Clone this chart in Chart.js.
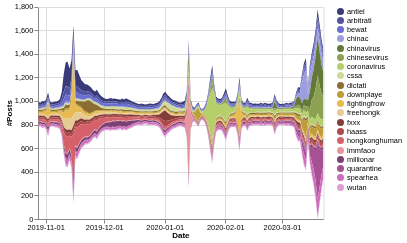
<!DOCTYPE html>
<html><head><meta charset="utf-8">
<script src="https://cdn.jsdelivr.net/npm/chart.js@4.4.1/dist/chart.umd.min.js"></script>
<style>
html,body{margin:0;padding:0;background:#fff;}
#wrap{position:relative;width:407px;height:243px;overflow:hidden;}
#c{position:absolute;left:0;top:0;}
#legend{position:absolute;left:337px;top:6.4px;font-family:"Liberation Sans",Arial,sans-serif;font-size:7.4px;color:#000;}
.item{height:9.28px;display:flex;align-items:center;white-space:nowrap;}
.dot{width:7px;height:7px;border-radius:50%;margin-right:3px;flex:none;}
</style></head>
<body><div id="wrap"><canvas id="c" width="407" height="243"></canvas><div id="legend"></div></div>
<script>
// day index 0 = 2019-10-28 ... 146 = 2020-03-22
const startDate = '2019-10-28';
const tickDays = [4, 34, 65, 96, 125];
const tickLabels = ['2019-11-01', '2019-12-01', '2020-01-01', '2020-02-01', '2020-03-01'];
const seriesNames = ['antiel','arbitrati','bewat','chinac','chinavirus','chinesevirus','coronavirus','cssa','dictati','downplaye','fightingfrow','freehongk','fxxx','haass','hongkonghuman','lmmfaoo','millionar','quarantine','spearhea','wutan'];
const seriesColors = ['#393b79','#5254a3','#6b6ecf','#9c9ede','#637939','#8ca252','#b5cf6b','#cedb9c','#8c6d31','#bd9e39','#e7ba52','#e7cb94','#843c39','#ad494a','#d6616b','#e7969c','#7b4173','#a55194','#ce6dbd','#de9ed6'];

const antiel = [22,20,24,21,26,35,22,20,23,21, 24,28,60,150,200,210,170,150,70,130, 140,110,85,75,65,58,52,48,44,40, 50,40,34,30,26,24,24,26,22,24, 22,24,22,26,24,28,24,22,20,18, 17,16,16,18,16,15,16,18,17,16, 17,18,20,22,26,28,24,22,20,19, 20,19,17,18,20,22,26,40,15,12, 10,8,12,8,6,10,14,16,30,40, 20,16,14,15,14,20,30,22,16,14, 14,13,16,30,14,12,13,20,14,12, 13,12,11,12,14,12,13,12,11,12, 13,20,16,12,11,10,10,11,10,11, 10,12,14,18,16,24,30,30,20,26, 32,38,45,60,50,40,35];
const arbitrati = [14,13,15,14,15,18,14,13,14,15, 15,16,30,60,70,72,62,60,40,55, 55,48,40,36,32,28,26,24,22,21, 26,22,20,18,17,16,16,17,16,16, 17,16,15,17,16,18,16,15,14,13, 13,12,12,13,12,11,12,13,12,12, 12,13,14,16,18,20,17,15,14,13, 14,13,12,13,14,15,18,30,12,10, 8,6,8,6,5,8,12,12,20,25, 14,12,11,12,11,14,20,15,12,11, 11,10,12,20,11,10,10,16,11,10, 10,10,9,10,11,10,11,10,9,10, 11,16,13,10,9,9,9,10,9,10, 9,10,11,14,13,18,25,30,18,22, 28,32,38,45,40,35,30];
const bewat = [15,14,16,15,16,20,15,14,16,15, 16,18,30,50,58,58,52,55,30,45, 45,40,35,32,30,28,26,26,24,23, 30,26,24,22,22,22,23,24,22,24, 22,22,20,23,22,25,22,20,19,17, 16,15,15,16,14,13,15,16,15,14, 15,16,18,20,22,24,20,18,17,15, 17,15,14,15,17,19,22,30,12,10, 8,6,8,6,5,8,12,14,25,30, 16,14,13,14,13,16,24,18,14,13, 13,12,14,24,13,12,12,18,13,12, 12,12,11,12,13,12,13,12,11,12, 13,18,15,12,11,12,12,13,12,13, 12,14,16,20,18,30,40,40,25,32, 38,42,48,55,50,45,40];
const chinac = [5,4,6,5,5,6,5,4,5,5, 5,6,6,8,10,10,8,10,8,8, 8,7,6,6,5,5,5,6,5,5, 6,5,5,5,4,4,5,5,4,5, 5,5,4,5,5,6,5,5,4,4, 4,3,4,4,3,3,4,4,4,3, 4,4,5,5,6,6,5,5,4,4, 5,4,4,4,5,5,6,8,3,2, 2,2,2,2,1,2,3,4,8,10, 5,4,4,4,4,5,8,5,4,4, 4,4,5,8,4,4,4,6,4,4, 4,4,4,4,5,4,5,4,4,4, 5,8,6,5,5,5,5,6,5,6, 6,8,15,25,40,180,200,250,50,150, 110,110,90,80,90,100,80];
const chinavirus = [1,1,1,1,1,1,1,1,1,1, 1,1,1,2,2,2,2,2,3,2, 1,1,1,1,1,1,1,1,1,1, 1,1,1,1,1,1,1,1,1,1, 1,1,1,1,1,1,1,1,1,1, 1,1,1,1,1,1,1,1,1,1, 1,1,1,1,2,2,1,1,1,1, 1,1,1,1,1,1,5,80,2,1, 1,1,1,1,1,1,2,5,15,30, 6,4,4,4,4,8,15,6,4,4, 4,4,6,8,4,4,5,10,5,4, 4,5,4,5,6,5,6,6,5,6, 10,60,15,8,6,6,7,8,7,8, 10,15,60,70,70,60,60,60,50,150, 190,230,280,320,290,240,210];
const chinesevirus = [1,1,1,1,1,1,1,1,1,1, 1,1,1,1,1,1,1,1,2,1, 1,1,1,1,1,1,1,1,1,1, 1,1,1,1,1,1,1,1,1,1, 1,1,1,1,1,1,1,1,1,1, 1,1,1,1,1,1,1,1,1,1, 1,1,1,1,2,2,2,1,1,1, 1,1,1,1,2,2,5,60,3,2, 2,2,2,2,2,3,5,15,40,60, 20,10,8,8,10,20,30,15,8,6, 6,5,8,15,6,5,6,10,6,5, 5,5,5,5,6,5,6,6,5,6, 8,20,10,6,5,6,6,7,6,7, 8,10,20,30,25,30,45,50,40,90, 140,190,260,320,270,220,180];
const coronavirus = [2,2,2,2,2,2,2,2,2,2, 2,2,2,2,3,3,2,3,4,3, 2,2,2,2,2,2,2,2,2,2, 2,2,2,2,2,2,2,2,2,2, 2,2,2,2,2,2,2,2,2,2, 2,2,2,2,2,2,2,2,2,2, 2,2,2,3,4,4,3,3,3,3, 3,3,3,4,5,6,8,15,6,6, 6,8,10,12,15,30,80,200,320,440, 300,120,90,80,100,130,150,100,50,40, 35,30,40,60,35,28,30,60,32,28, 22,24,22,20,22,20,22,20,19,20, 22,35,25,20,19,20,19,21,20,22, 22,24,30,40,35,40,45,40,40,50, 60,55,55,50,55,55,50];
const cssa = [8,7,8,8,9,10,8,7,8,8, 8,9,10,12,12,12,10,12,15,12, 10,10,9,9,9,10,10,12,12,14, 15,13,13,14,14,15,16,18,17,18, 18,18,17,18,18,18,17,16,15,14, 13,12,12,12,11,11,12,12,12,12, 12,13,15,20,26,30,40,45,45,40, 35,30,25,20,18,16,16,20,8,6, 5,5,5,4,4,5,6,8,10,12, 10,9,9,9,8,9,10,9,8,8, 8,8,8,10,8,8,8,9,8,8, 8,8,8,8,8,8,8,8,8,8, 8,9,8,8,7,8,7,8,7,8, 8,8,9,10,10,10,12,12,10,10, 10,10,10,10,10,10,10];
const dictati = [10,9,11,10,10,12,10,9,10,11, 10,12,15,25,30,30,25,30,20,25, 30,40,50,70,85,100,110,95,75,55, 45,32,22,18,14,12,11,11,10,11, 10,10,10,11,10,11,10,10,9,9, 9,8,8,9,8,8,8,9,8,8, 9,9,10,11,13,13,11,11,10,10, 10,10,9,9,10,11,14,20,6,5, 4,4,4,3,3,4,6,8,12,14, 10,9,9,9,9,10,12,10,9,9, 9,9,10,14,9,9,9,12,9,9, 9,9,9,9,10,9,10,9,9,9, 10,20,12,9,8,8,8,9,8,9, 9,10,15,20,15,15,18,20,15,15, 15,15,15,15,15,15,15];
const downplaye = [10,9,10,10,10,12,10,9,10,10, 10,11,12,15,18,18,15,18,20,15, 14,13,12,12,11,11,10,10,10,10, 10,9,9,8,8,8,8,8,8,8, 8,8,8,8,8,8,8,8,8,8, 8,7,7,8,7,7,7,8,7,7, 8,8,8,9,10,10,9,9,9,9, 9,9,9,9,10,10,12,20,10,10, 20,80,110,30,10,12,14,16,20,25, 16,14,14,14,14,16,20,16,14,13, 13,12,16,20,14,12,12,15,12,12, 12,12,12,12,13,12,13,12,12,12, 13,20,15,12,12,12,12,13,12,13, 13,15,30,25,35,50,110,150,30,50, 60,70,70,60,70,70,60];
const fightingfrow = [15,14,16,18,40,90,20,15,14,15, 16,20,40,60,70,60,80,150,550,60, 50,40,32,26,22,20,18,16,15,14, 15,14,13,12,12,11,11,12,11,11, 10,10,10,10,10,10,10,10,9,9, 8,8,8,8,8,7,8,8,8,8, 8,8,8,8,9,9,8,8,8,8, 8,8,8,8,8,8,9,15,6,5, 4,4,4,3,3,4,5,6,8,10, 8,7,7,8,8,10,12,8,8,10, 15,30,120,300,50,15,10,12,9,8, 8,8,8,8,8,8,8,8,8,8, 8,12,9,8,7,7,7,8,7,8, 8,9,12,15,14,18,25,20,20,20, 20,20,20,20,20,20,20];
const freehongk = [15,14,16,15,16,20,15,14,15,15, 16,18,30,60,90,100,90,100,90,70, 70,60,50,44,38,32,28,25,22,20, 22,19,17,15,14,13,13,14,13,13, 12,12,11,12,11,12,11,11,10,10, 9,9,9,9,9,8,9,9,9,8, 9,9,10,10,11,11,10,10,9,9, 9,9,9,9,9,10,10,15,6,5, 4,4,4,3,3,4,5,6,8,10, 8,7,7,7,7,8,10,8,7,7, 7,7,8,10,7,7,7,8,7,7, 7,7,7,7,7,7,7,7,7,7, 7,9,8,7,7,7,7,7,7,7, 7,8,8,9,9,10,10,12,10,10, 10,10,10,10,10,10,10];
const fxxx = [15,14,16,15,16,18,15,14,15,16, 16,18,20,25,28,28,24,28,35,28, 28,26,24,22,20,18,18,18,17,17, 18,16,15,14,14,13,14,14,13,14, 14,13,13,14,13,14,13,13,12,12, 11,11,11,12,11,11,12,12,12,14, 16,20,28,50,80,90,70,55,38,28, 22,18,16,15,15,15,18,25,10,8, 6,6,6,5,5,6,8,10,15,18, 13,12,12,12,12,13,15,13,12,11, 11,11,13,16,11,11,11,13,11,11, 10,10,10,10,11,10,11,10,10,10, 11,16,12,10,10,10,10,11,10,11, 12,13,18,25,22,22,22,22,18,18, 18,18,20,20,20,20,20];
const haass = [14,15,15,16,15,17,16,15,14,15, 15,17,21,24,29,31,26,29,38,31, 29,27,25,23,21,19,19,19,18,17, 19,17,16,15,15,14,15,15,14,15, 15,14,14,15,14,15,14,14,13,12, 12,11,12,12,11,12,12,13,13,14, 15,17,20,28,42,48,38,32,26,21, 19,17,16,15,15,15,17,25,10,8, 6,6,6,5,5,6,8,10,15,18, 13,12,12,12,12,13,15,13,12,11, 11,11,13,16,11,11,11,13,11,11, 10,10,10,10,11,10,11,10,10,10, 11,16,12,10,10,10,10,11,10,11, 12,13,18,24,20,22,22,24,18,22, 24,24,25,25,25,25,25];
const hongkonghuman = [20,18,22,20,22,26,20,19,20,21, 22,25,40,100,140,140,110,150,450,150, 170,150,130,110,100,110,100,90,80,80, 90,75,60,50,42,38,34,32,30,28, 26,25,24,25,24,25,23,22,20,18, 16,15,15,15,14,14,14,15,14,14, 14,15,17,20,22,24,20,18,16,16, 16,14,14,14,14,14,16,25,8,6, 5,5,5,4,4,5,6,8,12,14, 12,11,11,11,11,12,13,12,11,11, 11,11,12,14,11,11,11,12,11,11, 11,11,11,11,11,11,11,11,11,11, 11,14,12,11,10,10,10,10,10,10, 10,11,12,14,13,14,15,15,12,14, 15,15,15,15,15,15,15];
const lmmfaoo = [5,5,5,5,5,6,5,5,5,5, 5,5,6,8,10,10,8,10,15,10, 8,8,7,7,6,6,6,6,6,6, 6,6,5,5,5,5,5,5,5,5, 5,5,5,5,5,5,5,5,5,5, 5,5,5,5,5,5,5,5,5,5, 5,5,5,6,7,8,6,6,6,6, 6,6,6,7,10,20,150,750,120,20, 8,5,4,3,3,3,4,4,5,6, 4,4,4,4,4,4,5,4,4,4, 4,4,4,5,4,4,4,4,4,4, 3,3,3,3,3,3,3,3,3,3, 3,4,3,3,3,3,3,3,3,3, 3,3,4,5,5,5,5,5,5,5, 5,5,5,5,5,5,5];
const millionar = [14,13,15,14,15,30,14,13,14,15, 15,16,18,25,40,40,35,40,40,35, 32,28,26,24,22,20,20,22,24,26, 28,28,26,28,30,34,38,42,45,45, 45,42,44,45,42,44,40,36,30,24, 20,16,14,13,12,12,12,12,12,12, 12,12,13,15,17,18,15,13,12,12, 12,12,11,11,11,12,14,20,8,6, 5,5,5,4,4,5,6,8,10,12, 10,9,9,9,9,10,11,10,9,9, 9,9,10,12,9,9,9,10,9,9, 8,8,8,8,9,8,9,8,8,8, 9,12,10,8,8,8,8,8,8,8, 8,9,12,20,15,15,18,20,15,18, 20,20,20,20,20,20,20];
const quarantine = [5,5,5,5,5,6,5,5,5,5, 5,5,6,8,10,10,8,10,12,10, 8,8,7,7,6,6,6,6,6,6, 6,6,6,6,6,6,6,6,6,6, 6,6,6,6,6,6,6,6,6,6, 5,5,5,5,5,5,5,5,5,5, 5,5,5,6,7,7,6,6,6,6, 6,6,6,6,6,6,7,10,4,3, 3,3,3,3,3,3,4,6,10,15, 10,8,8,8,8,10,12,10,8,8, 8,8,10,14,9,8,8,10,8,8, 8,8,8,9,9,9,10,10,10,10, 11,14,12,11,11,12,12,13,13,14, 15,18,30,30,35,50,70,60,30,60, 130,170,260,480,320,200,150];
const spearhea = [15,14,16,15,16,30,15,14,15,16, 16,18,20,30,40,40,35,40,45,40, 35,30,28,26,24,22,20,20,20,20, 20,18,16,16,15,15,15,15,15,15, 15,15,14,15,14,15,14,14,14,13, 13,13,12,13,12,12,13,13,13,13, 14,14,15,17,19,20,17,15,14,14, 14,13,13,13,14,14,16,30,8,6, 5,5,5,4,4,5,6,10,20,30, 18,15,14,14,14,16,20,16,14,13, 12,12,14,20,12,12,12,14,12,12, 11,11,11,11,11,11,11,11,11,11, 11,14,12,11,11,11,11,12,12,12, 12,14,30,30,35,60,80,70,30,60, 100,120,140,150,130,110,90];
const wutan = [8,8,9,8,9,12,8,8,8,9, 9,10,12,15,18,18,15,18,25,18, 15,14,12,12,11,10,10,10,10,10, 10,10,10,10,9,9,9,9,9,9, 9,9,9,9,9,9,9,9,9,9, 9,9,9,9,9,9,9,9,9,9, 9,9,9,10,11,12,10,10,9,9, 9,9,9,9,9,9,10,15,5,4, 3,3,3,3,3,3,4,6,10,14, 10,8,8,8,8,9,10,9,8,8, 8,8,10,12,8,8,8,9,8,8, 8,8,8,8,8,8,8,8,8,8, 8,10,9,8,8,8,8,8,8,8, 8,9,12,15,12,15,18,20,12,15, 18,20,20,20,20,18,18];

const seriesValues = [antiel,arbitrati,bewat,chinac,chinavirus,chinesevirus,coronavirus,cssa,dictati,downplaye,fightingfrow,freehongk,fxxx,haass,hongkonghuman,lmmfaoo,millionar,quarantine,spearhea,wutan];

// centered ("streamgraph") stack: baseline = (max total - total) / 2
const nDays = antiel.length;
const totals = [];
for (let d = 0; d < nDays; d++) { let s = 0; for (const arr of seriesValues) s += arr[d]; totals.push(s); }
const maxTotal = Math.max(...totals);
const baseline = totals.map(t => (maxTotal - t) / 2);

const datasets = [{
  label: '_base', data: baseline.map((v, d) => ({x: d, y: v})),
  borderWidth: 0, pointRadius: 0, fill: false, borderColor: 'rgba(0,0,0,0)', backgroundColor: 'rgba(0,0,0,0)'
}];
for (let i = seriesNames.length - 1; i >= 0; i--) {
  datasets.push({
    label: seriesNames[i],
    data: seriesValues[i].map((v, d) => ({x: d, y: v})),
    backgroundColor: seriesColors[i], borderColor: seriesColors[i], borderWidth: 0,
    pointRadius: 0, pointHoverRadius: 0, fill: '-1', tension: 0
  });
}

// legend (HTML text)
const lg = document.getElementById('legend');
seriesNames.forEach((n, i) => {
  const it = document.createElement('div'); it.className = 'item';
  const dot = document.createElement('span'); dot.className = 'dot'; dot.style.background = seriesColors[i];
  const tx = document.createElement('span'); tx.textContent = n;
  it.appendChild(dot); it.appendChild(tx); lg.appendChild(it);
});

const frame = {
  id: 'frame',
  beforeDatasetsDraw(chart) {
    const a = chart.chartArea, ctx = chart.ctx;
    ctx.save(); ctx.strokeStyle = '#ddd'; ctx.lineWidth = 1;
    ctx.beginPath(); ctx.moveTo(a.left, a.top + 0.5); ctx.lineTo(a.right + 0.5, a.top + 0.5); ctx.lineTo(a.right + 0.5, a.bottom); ctx.stroke();
    ctx.restore();
  }
};

Chart.defaults.font.family = '"Liberation Sans", Arial, sans-serif';
Chart.defaults.font.size = 7.4;
Chart.defaults.color = '#000';

new Chart(document.getElementById('c'), {
  type: 'line',
  data: { datasets },
  plugins: [frame],
  options: {
    responsive: false, animation: false, locale: 'en-US',
    layout: { padding: { left: 0, top: 7, right: 83.5, bottom: 0 } },
    plugins: { legend: { display: false }, tooltip: { enabled: false } },
    elements: { line: { borderWidth: 0 } },
    scales: {
      x: {
        type: 'linear', min: 0, max: nDays - 1,
        afterBuildTicks: s => { s.ticks = tickDays.map(v => ({ value: v })); },
        afterFit: s => { s.height = 23.5; },
        ticks: { autoSkip: false, maxRotation: 0, padding: 0, color: '#000',
          callback: v => { const i = tickDays.indexOf(v); return i >= 0 ? tickLabels[i] : ''; } },
        grid: { color: '#ddd', tickColor: '#888', tickLength: 4 },
        border: { color: '#888' },
        title: { display: true, text: 'Date', font: { weight: 'bold', size: 8 }, color: '#000', padding: { top: 0, bottom: 2.5 } }
      },
      y: {
        stacked: true, min: 0, max: 1800,
        afterFit: s => { s.width = 38.3; },
        ticks: { stepSize: 200, padding: 1, color: '#000' },
        grid: { color: '#ddd', tickColor: '#888', tickLength: 4 },
        border: { color: '#888' },
        title: { display: true, text: '#Posts', font: { weight: 'bold', size: 8 }, color: '#000', padding: { top: 4.5, bottom: 0 } }
      }
    }
  }
});
</script>
</body></html>
